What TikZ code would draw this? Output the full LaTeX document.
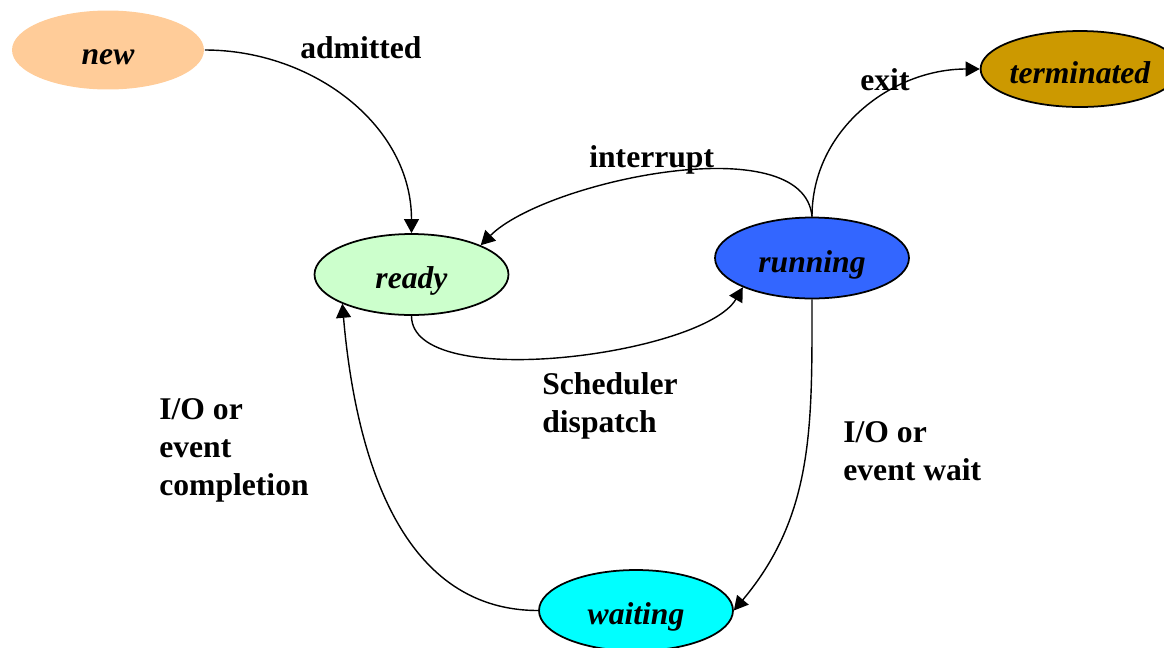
\documentclass[tikz,border=0pt]{standalone}
\usepackage{fontspec}
\setmainfont{Liberation Serif}
\usetikzlibrary{shapes.geometric,arrows.meta}

\definecolor{newfill}{HTML}{FFCC99}
\definecolor{readyfill}{HTML}{CCFFCC}
\definecolor{runfill}{HTML}{3366FF}
\definecolor{waitfill}{HTML}{00FFFF}
\definecolor{termfill}{HTML}{CC9900}

\begin{document}
\begin{tikzpicture}[
    x=0.02cm, y=0.02cm,
    pstate/.style={ellipse, draw, line width=1pt, inner sep=0pt,
                   minimum width=3.88cm, minimum height=1.62cm, fill=#1,
                   text height=16pt, text depth=0pt,
                   font=\fontsize{18}{21.5}\selectfont\bfseries\itshape},
    trans/.style={-{Triangle[length=8pt,width=8.5pt]}, line width=0.8pt},
    lbl/.style={anchor=base west, inner sep=0pt, align=left,
                font=\fontsize{18}{21.5}\selectfont\bfseries}
  ]
    \useasboundingbox (0,0) rectangle (1164,-647);

    % process states
    \node[pstate=newfill, draw=none, minimum width=3.84cm, minimum height=1.58cm]
      (new) at (108,-50) {new};
    \node[pstate=readyfill] (ready)   at (411.5,-274.5) {ready};
    \node[pstate=runfill]   (running) at (812,-258)     {running};
    \node[pstate=waitfill]  (waiting) at (636,-610.5)   {waiting};
    \node[pstate=termfill, minimum width=3.7cm, minimum height=1.52cm]
      (term) at (1080,-69) {terminated};

    % transitions
    \draw[trans] (new.east) to[out=0, in=90] (ready.north);
    \draw[trans] (running.north) to[out=95, in=45, looseness=0.7] (ready.north east);
    \draw[trans] (running.north) to[out=90, in=180] (term.west);
    \draw[trans] (ready.south) to[out=-90, in=-120, looseness=0.6] (running.south west);
    \draw[trans] (running.south) to[out=-90, in=50] (waiting.east);
    \draw[trans] (waiting.west) to[out=180, in=-85] (ready.south west);

    % transition labels (base = last line)
    \node[lbl] (admitlbl)  at (300,-58)  {admitted};
    \node[lbl] (exitlbl)   at (860,-90)  {exit};
    \node[lbl] (intrlbl)   at (589,-167) {interrupt};
    \node[lbl] (schedlbl)  at (542,-432) {Scheduler\\dispatch};
    \node[lbl] (iodonelbl) at (159,-495) {I/O or\\event\\completion};
    \node[lbl] (iowaitlbl) at (843,-480) {I/O or\\event wait};
\end{tikzpicture}
\end{document}
